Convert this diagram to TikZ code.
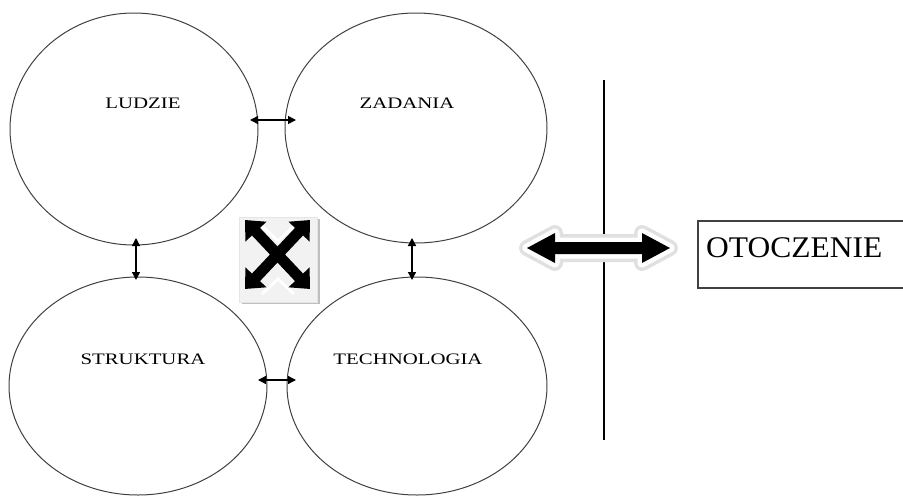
\documentclass[tikz,border=0pt]{standalone}
\usepackage{fontspec}
\setmainfont{Liberation Serif}
\usetikzlibrary{shapes.geometric,arrows.meta}
\begin{document}
\begin{tikzpicture}[x=1pt,y=-1pt,
  circ/.style={draw=black!75,line width=1pt,ellipse,inner sep=0pt},
  lbl/.style={font=\fontsize{16}{16}\selectfont,inner sep=0pt,xscale=1.3},
  small/.style={line width=1.3pt,{Triangle[length=8pt,width=8pt]}-{Triangle[length=8pt,width=8pt]}},
]
\useasboundingbox (0,0) rectangle (903,496);
% circles
\node[circ,minimum width=248pt,minimum height=232pt] (tl) at (134,129) {};
\node[circ,minimum width=262pt,minimum height=230pt] (tr) at (416,128) {};
\node[circ,minimum width=258pt,minimum height=218pt] (bl) at (138,386) {};
\node[circ,minimum width=260pt,minimum height=218pt] (br) at (417,386) {};
% labels
\node[lbl] (lud) at (143,103) {LUDZIE};
\node[lbl] (zad) at (407,103) {ZADANIA};
\node[lbl] (str) at (143,359) {STRUKTURA};
\node[lbl] (tec) at (408,359) {TECHNOLOGIA};
% small arrows
\coordinate (a1) at (250,120); \coordinate (a2) at (296,120);
\draw[small] (a1) -- (a2);
\coordinate (b1) at (258,380); \coordinate (b2) at (296,380);
\draw[small] (b1) -- (b2);
\coordinate (c1) at (136,238); \coordinate (c2) at (136,280);
\draw[small] (c1) -- (c2);
\coordinate (d1) at (412,238); \coordinate (d2) at (412,280);
\draw[small] (d1) -- (d2);
% X icon
\fill[black!25] (242,219) rectangle (320,304);
\node[draw=black!10,fill=black!5,minimum width=78pt,minimum height=85pt,inner sep=0pt] (xbox) at (278.5,259.5) {};
\draw[white,line width=3pt] (262,226) -- (278,241) -- (294,226);
\draw[white,line width=3pt] (262,294) -- (278,279) -- (294,294);
\coordinate (x1) at (245,220); \coordinate (x2) at (310,289);
\coordinate (x3) at (310,220); \coordinate (x4) at (245,289);
\draw[line width=11pt,{Triangle[length=16pt,width=28pt]}-{Triangle[length=16pt,width=28pt]}] (x1) -- (x2);
\draw[line width=11pt,{Triangle[length=16pt,width=28pt]}-{Triangle[length=16pt,width=28pt]}] (x3) -- (x4);
% vertical line
\coordinate (v1) at (604,80); \coordinate (v2) at (604,440);
\draw[line width=2pt] (v1) -- (v2);
% big double arrow
\def\bigarrow{(527,248) -- (555,233) -- (555,242) -- (642,242) -- (642,233) -- (670,248) -- (642,263) -- (642,254) -- (555,254) -- (555,263) -- cycle}
\draw[black!12,line width=16pt,line join=round] \bigarrow;
\draw[white,line width=9pt,line join=round] \bigarrow;
\fill[black] \bigarrow;
% OTOCZENIE box
\draw[black!75,line width=1.3pt] (920,221) -- (698,221) -- (698,288) -- (920,288);
\node[font=\fontsize{30}{30}\selectfont,inner sep=0pt,anchor=west,xscale=1.05] (oto) at (706,248) {OTOCZENIE};
\end{tikzpicture}
\end{document}
